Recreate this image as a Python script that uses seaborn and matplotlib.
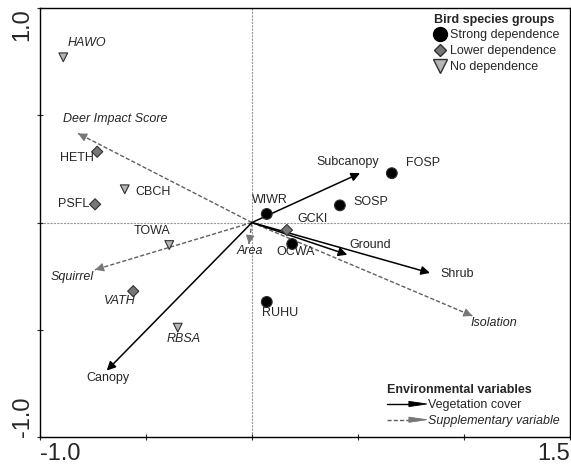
import numpy as np
import pandas as pd
import seaborn as sns
import matplotlib.pyplot as plt
from matplotlib.lines import Line2D
from matplotlib.patches import Polygon
from matplotlib.legend_handler import HandlerBase

# bird species scores
species = ['HAWO', 'HETH', 'CBCH', 'PSFL', 'WIWR', 'TOWA', 'VATH',
           'RBSA', 'RUHU', 'FOSP', 'SOSP', 'GCKI', 'OCWA']
groups = ['No dependence', 'Lower dependence', 'No dependence', 'Lower dependence',
          'Strong dependence', 'No dependence', 'Lower dependence', 'No dependence',
          'Strong dependence', 'Strong dependence', 'Strong dependence',
          'Lower dependence', 'Strong dependence']
axis1 = [-0.89, -0.73, -0.60, -0.74, 0.07, -0.39, -0.56, -0.35, 0.07, 0.66, 0.415, 0.165, 0.19]
axis2 = [0.77, 0.33, 0.155, 0.085, 0.04, -0.105, -0.32, -0.49, -0.37, 0.23, 0.08, -0.035, -0.10]

# environmental vectors
env_names = ['Subcanopy', 'Canopy', 'Ground', 'Shrub',
             'Deer Impact Score', 'Squirrel', 'Area', 'Isolation']
env_type = ['Vegetation cover'] * 4 + ['Supplementary variable'] * 4
env_x = [0.51, -0.685, 0.45, 0.84, -0.82, -0.74, -0.014, 1.04]
env_y = [0.23, -0.69, -0.15, -0.235, 0.415, -0.22, -0.10, -0.435]

group_order = ['Strong dependence', 'Lower dependence', 'No dependence']

df = pd.DataFrame({'species': species, 'group': groups, 'CA1': axis1, 'CA2': axis2})

# label placement (offset in pixels, alignment, italic)
sp_lab = {
    'HAWO': (4, 14, 'left', True), 'HETH': (-3, -6, 'right', False),
    'CBCH': (11, -3, 'left', False), 'PSFL': (-6, 0, 'right', False),
    'WIWR': (3, 14, 'center', False), 'TOWA': (-17, 14, 'center', False),
    'VATH': (-13, -10, 'center', True), 'RBSA': (6, -11, 'center', True),
    'RUHU': (13, -11, 'center', False), 'FOSP': (14, 10, 'left', False),
    'SOSP': (14, 3, 'left', False), 'GCKI': (10, 11, 'left', False),
    'OCWA': (3, -8, 'center', False)}
env_lab = {
    'Subcanopy': (-12, 11, 'center'), 'Deer Impact Score': (-15, 14, 'left'),
    'Squirrel': (-1, -7, 'right'), 'Canopy': (1, -7, 'center'),
    'Area': (1, -7, 'center'), 'Ground': (23, 10, 'center'),
    'Shrub': (10, -1, 'left'), 'Isolation': (-2, -7, 'left')}

sns.set_style('ticks')
plt.rcParams['font.family'] = ['Liberation Sans', 'DejaVu Sans']

fig = plt.figure(figsize=(5.71, 4.69), dpi=100)
ax = fig.add_axes([0.070, 0.068, 0.928, 0.915])

ax.axhline(0, color='#9a9a9a', lw=0.8, ls=(0, (2, 1)), zorder=0)
ax.axvline(0, color='#9a9a9a', lw=0.8, ls=(0, (2, 1)), zorder=0)

veg_col = 'black'
sup_line = '#606060'
sup_head = '#777777'
lab_fs = 9

for name, kind, x, y in zip(env_names, env_type, env_x, env_y):
    if kind == 'Vegetation cover':
        ax.annotate('', xy=(x, y), xytext=(0, 0),
                    arrowprops=dict(arrowstyle='-|>', color=veg_col, lw=1.1,
                                    mutation_scale=13, shrinkA=0, shrinkB=0), zorder=3)
    else:
        ax.plot([0, x], [0, y], color=sup_line, lw=1.0, ls=(0, (3, 1.5)), zorder=2)
        ax.annotate('', xy=(x, y), xytext=(x * 0.97, y * 0.97),
                    arrowprops=dict(arrowstyle='-|>', color=sup_head, lw=0.8,
                                    mutation_scale=13, shrinkA=0, shrinkB=0), zorder=3)
    dx, dy, ha = env_lab[name]
    ax.annotate(name, (x, y), xytext=(dx, dy), textcoords='offset pixels',
                ha=ha, va='center', fontsize=lab_fs,
                style='italic' if kind != 'Vegetation cover' else 'normal')

sns.scatterplot(data=df, x='CA1', y='CA2', hue='group', style='group', size='group',
                hue_order=group_order, style_order=group_order, size_order=group_order,
                palette={'Strong dependence': 'black', 'Lower dependence': '#777777',
                         'No dependence': '#b5b5b5'},
                markers={'Strong dependence': 'o', 'Lower dependence': 'D',
                         'No dependence': 'v'},
                sizes={'Strong dependence': 60, 'Lower dependence': 32,
                       'No dependence': 40},
                edgecolor='#303030', linewidth=0.8, legend=False, ax=ax, zorder=4)

for sp, x, y in zip(species, axis1, axis2):
    dx, dy, ha, it = sp_lab[sp]
    ax.annotate(sp, (x, y), xytext=(dx, dy), textcoords='offset pixels',
                ha=ha, va='center', fontsize=lab_fs, style='italic' if it else 'normal')

ax.set_xlim(-1.0, 1.5)
ax.set_ylim(-1.0, 1.0)
ax.set_xticks([-1.0, -0.5, 0, 0.5, 1.0, 1.5])
ax.set_xticklabels(['-1.0', '', '', '', '', '1.5'], fontsize=17)
ax.set_yticks([-1.0, -0.5, 0, 0.5, 1.0])
ax.set_yticklabels(['-1.0', '', '', '', '1.0'], fontsize=17, rotation=90)
ax.tick_params(direction='inout', length=5, width=0.8, pad=2)
xl = ax.get_xticklabels()
xl[0].set_ha('left')
xl[-1].set_ha('right')
yl = ax.get_yticklabels()
yl[0].set_va('bottom')
yl[-1].set_va('top')
ax.set_xlabel('')
ax.set_ylabel('')
for s in ax.spines.values():
    s.set_linewidth(1.0)
    s.set_color('black')

# legend 1: bird groups
h1 = [Line2D([], [], ls='', marker='o', ms=10, mfc='black', mec='black'),
      Line2D([], [], ls='', marker='D', ms=6.5, mfc='#777777', mec='#303030'),
      Line2D([], [], ls='', marker='v', ms=9.5, mfc='#b5b5b5', mec='#303030')]
leg1 = ax.legend(h1, group_order, loc='upper right', bbox_to_anchor=(1.0, 1.01),
                 frameon=False, fontsize=9, title='Bird species groups',
                 title_fontproperties={'weight': 'bold', 'size': 9},
                 alignment='left', handletextpad=0.3, labelspacing=0.3,
                 handlelength=1.0, borderpad=0.3)
ax.add_artist(leg1)


class ArrowHandler(HandlerBase):
    def __init__(self, ls, lcol, hcol):
        super().__init__()
        self.ls, self.lcol, self.hcol = ls, lcol, hcol

    def create_artists(self, legend, orig_handle, xdescent, ydescent,
                       width, height, fontsize, trans):
        y = height / 2 - ydescent
        x0 = -xdescent
        x1 = width - xdescent
        xh = x0 + width * 0.55
        line = Line2D([x0, xh], [y, y], ls=self.ls, color=self.lcol, lw=1.0, transform=trans)
        head = Polygon([[xh, y + height * 0.3], [x1, y], [xh, y - height * 0.3]],
                       closed=True, fc=self.hcol, ec=self.hcol, lw=0.6, transform=trans)
        return [line, head]


ha1 = Line2D([], [])
ha2 = Line2D([], [])
leg2 = ax.legend([ha1, ha2], ['Vegetation cover', 'Supplementary variable'],
                 handler_map={ha1: ArrowHandler('-', 'black', 'black'),
                              ha2: ArrowHandler((0, (3, 1.5)), sup_line, sup_head)},
                 loc='lower right', bbox_to_anchor=(1.0, 0.0), frameon=False,
                 fontsize=9, title='Environmental variables',
                 title_fontproperties={'weight': 'bold', 'size': 9},
                 alignment='left', handletextpad=0.1, labelspacing=0.3,
                 handlelength=3.2, borderpad=0.3)
leg2.get_texts()[1].set_style('italic')

fig.savefig('out.png', dpi=100)
